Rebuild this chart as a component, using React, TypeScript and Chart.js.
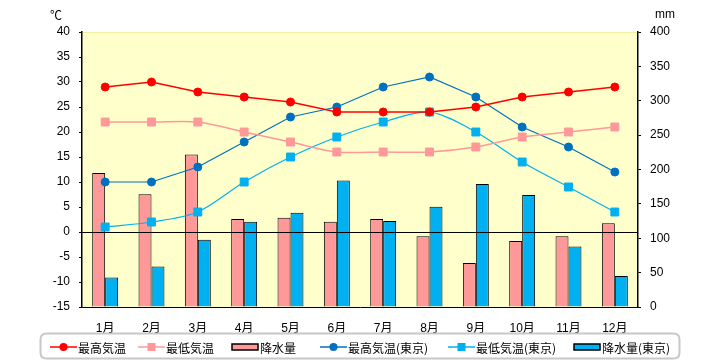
import React, { useEffect, useRef } from 'react';
import { Chart, registerables } from 'chart.js';

Chart.register(...registerables);

const months = ['1月', '2月', '3月', '4月', '5月', '6月', '7月', '8月', '9月', '10月', '11月', '12月'];
const highTemp = [29, 30, 28, 27, 26, 24, 24, 24, 25, 27, 28, 29];
const lowTemp = [22, 22, 22, 20, 18, 16, 16, 16, 17, 19, 20, 21];
const precip = [195, 164, 222, 128, 130, 124, 128, 103, 64, 96, 103, 122];
const tokyoHigh = [10, 10, 13, 18, 23, 25, 29, 31, 27, 21, 17, 12];
const tokyoLow = [1, 2, 4, 10, 15, 19, 22, 24, 20, 14, 9, 4];
const tokyoPrecip = [43, 59, 98, 124, 137, 184, 125, 146, 179, 163, 88, 45];

const tempMin = -15;
const tempMax = 40;
const tempStep = 5;
const mmMin = 0;
const mmMax = 400;
const mmStep = 50;

const tempUnit = '℃';
const mmUnit = 'mm';

const RED = '#FF0000';
const PINK = '#FF9999';
const BLUE = '#0070C0';
const CYAN = '#00B0F0';
const JP_FONT = '"Noto Sans CJK JP", "Liberation Sans", sans-serif';
const NUM_FONT = '"Liberation Sans", "Noto Sans CJK JP", sans-serif';

type LegendKind = 'circle' | 'rect' | 'bar';
const legendKinds: LegendKind[] = ['circle', 'rect', 'bar', 'circle', 'rect', 'bar'];
const legendStarts = [50, 138, 232, 320, 448, 574];

const bgPlugin = {
  id: 'plotBg',
  beforeDraw(chart: any) {
    const { ctx, chartArea: a } = chart;
    ctx.save();
    ctx.fillStyle = '#FFFFCC';
    ctx.fillRect(a.left, a.top, a.right - a.left, a.bottom - a.top);
    ctx.strokeStyle = '#F0F0A0';
    ctx.lineWidth = 1;
    ctx.beginPath();
    ctx.moveTo(a.left, a.top + 0.5);
    ctx.lineTo(a.right, a.top + 0.5);
    ctx.stroke();
    ctx.restore();
  },
};

const zeroLinePlugin = {
  id: 'zeroLine',
  afterDatasetDraw(chart: any, args: any) {
    if (args.index !== 2) return;
    const { ctx, chartArea: a } = chart;
    const y = Math.round(chart.scales.y.getPixelForValue(0)) + 0.5;
    ctx.save();
    ctx.strokeStyle = '#000';
    ctx.lineWidth = 1;
    ctx.beginPath();
    ctx.moveTo(a.left, y);
    ctx.lineTo(a.right, y);
    ctx.stroke();
    ctx.restore();
  },
};

const extrasPlugin = {
  id: 'extras',
  afterDraw(chart: any) {
    const { ctx } = chart;
    ctx.save();
    ctx.fillStyle = '#000';
    ctx.font = `12px ${JP_FONT}`;
    ctx.textAlign = 'center';
    ctx.textBaseline = 'middle';
    ctx.fillText(tempUnit, 56, 15);
    ctx.font = `12px ${NUM_FONT}`;
    ctx.fillText(mmUnit, 665, 15);

    const bx = 40.5, by = 333.5, bw = 639, bh = 25, r = 6;
    ctx.beginPath();
    ctx.moveTo(bx + r, by);
    ctx.lineTo(bx + bw - r, by);
    ctx.quadraticCurveTo(bx + bw, by, bx + bw, by + r);
    ctx.lineTo(bx + bw, by + bh - r);
    ctx.quadraticCurveTo(bx + bw, by + bh, bx + bw - r, by + bh);
    ctx.lineTo(bx + r, by + bh);
    ctx.quadraticCurveTo(bx, by + bh, bx, by + bh - r);
    ctx.lineTo(bx, by + r);
    ctx.quadraticCurveTo(bx, by, bx + r, by);
    ctx.closePath();
    ctx.fillStyle = '#FFFFFF';
    ctx.fill();
    ctx.strokeStyle = '#C8C8C8';
    ctx.lineWidth = 2;
    ctx.stroke();

    const cy = 347;
    chart.data.datasets.forEach((ds: any, i: number) => {
      const x0 = legendStarts[i];
      const kind = legendKinds[i];
      const color = kind === 'bar' ? ds.backgroundColor : ds.borderColor;
      if (kind === 'bar') {
        ctx.fillStyle = color;
        ctx.fillRect(x0, cy - 3, 26, 6);
        ctx.strokeStyle = '#000';
        ctx.lineWidth = 1.5;
        ctx.strokeRect(x0, cy - 3, 26, 6);
      } else {
        ctx.strokeStyle = color;
        ctx.lineWidth = 1.5;
        ctx.beginPath();
        ctx.moveTo(x0, cy);
        ctx.lineTo(x0 + 27, cy);
        ctx.stroke();
        ctx.fillStyle = color;
        if (kind === 'circle') {
          ctx.beginPath();
          ctx.arc(x0 + 13.5, cy, 4, 0, Math.PI * 2);
          ctx.fill();
        } else {
          ctx.fillRect(x0 + 9.5, cy - 4, 8, 8);
        }
      }
      ctx.fillStyle = '#000';
      ctx.font = `12px ${JP_FONT}`;
      ctx.textAlign = 'left';
      ctx.textBaseline = 'middle';
      ctx.fillText(ds.label, x0 + 28, cy + 1);
    });
    ctx.restore();
  },
};

export default function App() {
  const canvasRef = useRef<HTMLCanvasElement | null>(null);

  useEffect(() => {
    if (!canvasRef.current) return;
    const lineCommon = {
      type: 'line' as const,
      yAxisID: 'y',
      order: 0,
      pointBorderWidth: 1,
      fill: false,
    };
    const chart = new Chart(canvasRef.current, {
      type: 'bar',
      data: {
        labels: months,
        datasets: [
          { ...lineCommon, label: '最高気温', data: highTemp, borderWidth: 1.5, borderColor: RED, backgroundColor: RED, pointBackgroundColor: RED, pointBorderColor: RED, pointStyle: 'circle', pointRadius: 4, tension: 0 },
          { ...lineCommon, label: '最低気温', data: lowTemp, borderWidth: 1.5, borderColor: PINK, backgroundColor: PINK, pointBackgroundColor: PINK, pointBorderColor: PINK, pointStyle: 'rect', pointRadius: 5.6, tension: 0.3 },
          { type: 'bar', label: '降水量', data: precip, yAxisID: 'y2', order: 1, backgroundColor: PINK, borderColor: '#000', borderWidth: 1, categoryPercentage: 0.56, barPercentage: 1.0 },
          { ...lineCommon, label: '最高気温(東京)', data: tokyoHigh, borderWidth: 1.2, borderColor: BLUE, backgroundColor: BLUE, pointBackgroundColor: BLUE, pointBorderColor: BLUE, pointStyle: 'circle', pointRadius: 4, tension: 0 },
          { ...lineCommon, label: '最低気温(東京)', data: tokyoLow, borderWidth: 1.2, borderColor: CYAN, backgroundColor: CYAN, pointBackgroundColor: CYAN, pointBorderColor: CYAN, pointStyle: 'rect', pointRadius: 5.6, tension: 0.3 },
          { type: 'bar', label: '降水量(東京)', data: tokyoPrecip, yAxisID: 'y2', order: 1, backgroundColor: CYAN, borderColor: '#000', borderWidth: 1, categoryPercentage: 0.56, barPercentage: 1.0 },
        ] as any,
      },
      options: {
        responsive: false,
        animation: false,
        layout: { padding: { top: 32, left: 0, right: 0, bottom: 0 } },
        plugins: {
          legend: { display: false },
          tooltip: { enabled: false },
        },
        scales: {
          x: {
            grid: { display: false },
            border: { display: true, color: '#000', width: 1 },
            ticks: { color: '#000', padding: 6, font: { size: 12, family: NUM_FONT } },
            afterFit(scale: any) { scale.height = 53; },
          },
          y: {
            position: 'left',
            min: tempMin,
            max: tempMax,
            ticks: { stepSize: tempStep, color: '#000', padding: 9, font: { size: 12, family: NUM_FONT } },
            grid: { display: true, drawOnChartArea: false, drawTicks: true, tickLength: 3, color: '#000' },
            border: { display: true, color: '#000', width: 1.5 },
            afterFit(scale: any) { scale.width = 82; },
          },
          y2: {
            position: 'right',
            min: mmMin,
            max: mmMax,
            ticks: { stepSize: mmStep, color: '#000', padding: 9, font: { size: 12, family: NUM_FONT } },
            grid: { display: true, drawOnChartArea: false, drawTicks: true, tickLength: 3, color: '#000' },
            border: { display: true, color: '#000', width: 1.5 },
            afterFit(scale: any) { scale.width = 82; },
          },
        },
      } as any,
      plugins: [bgPlugin, zeroLinePlugin, extrasPlugin],
    });
    return () => chart.destroy();
  }, []);

  return (
    <div style={{ position: 'absolute', left: 0, top: 0, width: 720, height: 360, background: '#fff' }}>
      <canvas ref={canvasRef} width={720} height={360} />
    </div>
  );
}
